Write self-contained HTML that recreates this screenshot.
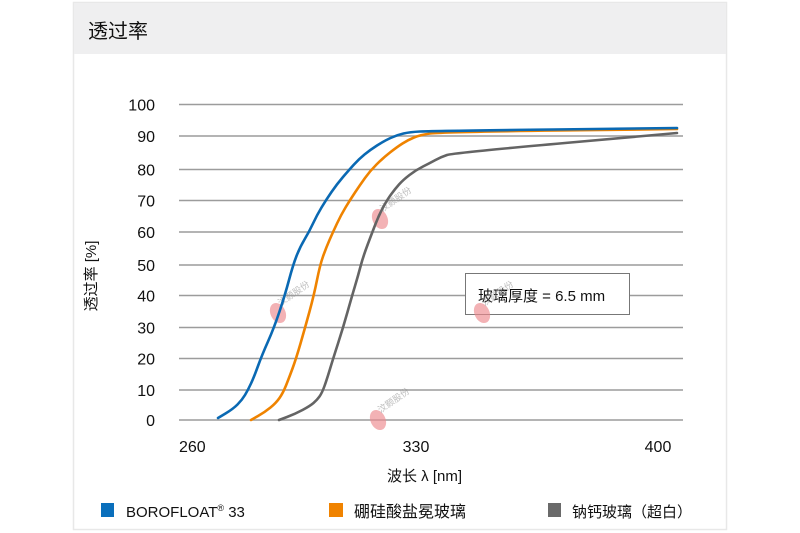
<!DOCTYPE html>
<html><head><meta charset="utf-8"><style>
html,body{margin:0;padding:0;background:#fff;}
body{width:800px;height:533px;overflow:hidden;position:relative;font-family:"Liberation Sans","Noto Sans CJK SC",sans-serif;}
svg{position:absolute;left:0;top:0;}
</style></head><body>
<svg width="800" height="533" viewBox="0 0 800 533" xmlns="http://www.w3.org/2000/svg" font-family="Liberation Sans, Noto Sans CJK SC, sans-serif">
<!-- card -->
<rect x="73.5" y="2.5" width="653" height="527" fill="#fff" stroke="#e8e8e8" stroke-width="1.5"/>
<rect x="74" y="3" width="652" height="51" fill="#efeff0"/>
<text x="88" y="38" font-size="20" fill="#111">透过率</text>

<!-- gridlines -->
<g stroke="#9c9c9c" stroke-width="1.5">
<line x1="179" y1="104.5" x2="683" y2="104.5"/>
<line x1="179" y1="136" x2="683" y2="136"/>
<line x1="179" y1="169.5" x2="683" y2="169.5"/>
<line x1="179" y1="200.5" x2="683" y2="200.5"/>
<line x1="179" y1="232" x2="683" y2="232"/>
<line x1="179" y1="265" x2="683" y2="265"/>
<line x1="179" y1="295.5" x2="683" y2="295.5"/>
<line x1="179" y1="327.5" x2="683" y2="327.5"/>
<line x1="179" y1="358.5" x2="683" y2="358.5"/>
<line x1="179" y1="390" x2="683" y2="390"/>
<line x1="179" y1="420" x2="683" y2="420"/>
</g>

<!-- y tick labels -->
<g font-size="16" fill="#111" text-anchor="end">
<text x="155" y="110.5">100</text>
<text x="155" y="142">90</text>
<text x="155" y="175.5">80</text>
<text x="155" y="206.5">70</text>
<text x="155" y="238">60</text>
<text x="155" y="271">50</text>
<text x="155" y="301.5">40</text>
<text x="155" y="333.5">30</text>
<text x="155" y="364.5">20</text>
<text x="155" y="396">10</text>
<text x="155" y="426">0</text>
</g>
<!-- x tick labels -->
<g font-size="16" fill="#111">
<text x="179" y="452">260</text>
<text x="416" y="452" text-anchor="middle">330</text>
<text x="658" y="452" text-anchor="middle">400</text>
</g>
<text x="387" y="481" font-size="15" fill="#111">波长 λ [nm]</text>
<text transform="translate(96,276) rotate(-90)" font-size="15" fill="#111" text-anchor="middle">透过率 [%]</text>

<!-- annotation -->
<rect x="465.5" y="273.5" width="164" height="41" fill="#fff" stroke="#777" stroke-width="1"/>
<text x="478" y="301" font-size="15" fill="#111">玻璃厚度 = 6.5 mm</text>

<!-- watermarks -->
<g opacity="0.65">
<g transform="translate(278,313)"><ellipse cx="0" cy="0" rx="7.5" ry="10.5" fill="#ee8a8f" transform="rotate(-25)"/><text x="6" y="-4" font-size="9" fill="#999" transform="rotate(-35)">汶颢股份</text></g>
<g transform="translate(380,219)"><ellipse cx="0" cy="0" rx="7.5" ry="10.5" fill="#ee8a8f" transform="rotate(-25)"/><text x="6" y="-4" font-size="9" fill="#999" transform="rotate(-35)">汶颢股份</text></g>
<g transform="translate(482,313)"><ellipse cx="0" cy="0" rx="7.5" ry="10.5" fill="#ee8a8f" transform="rotate(-25)"/><text x="6" y="-4" font-size="9" fill="#999" transform="rotate(-35)">汶颢股份</text></g>
<g transform="translate(378,420)"><ellipse cx="0" cy="0" rx="7.5" ry="10.5" fill="#ee8a8f" transform="rotate(-25)"/><text x="6" y="-4" font-size="9" fill="#999" transform="rotate(-35)">汶颢股份</text></g>
</g>

<!-- curves -->
<g fill="none" stroke-width="2.6" stroke-linejoin="round" stroke-linecap="round">
<path stroke="#646464" d="M279,420 L287,417 Q295,414 302.5,410 Q310,406 313.5,403 Q317,400 319.5,396.5 Q322,393 324.5,386 Q327,379 330,369 Q333,359 338,343.5 Q343,328 347.5,312 Q352,296 355,286 Q358,276 360.5,266.5 Q363,257 367.5,245 Q372,233 375.5,224 Q379,215 383,207.5 Q387,200 391,194.5 Q395,189 399,184.5 Q403,180 409.5,175 Q416,170 423,166.5 Q430,163 435.5,160 Q441,157 447,155 Q453,153 565,143 L677,133"/>
<path stroke="#ef8300" d="M251,420 L258,416 Q265,412 270.5,407.5 Q276,403 279.5,398 Q283,393 286,385.5 Q289,378 292.5,368.5 Q296,359 300.5,343.5 Q305,328 309.5,311.5 Q314,295 317,280 Q320,265 323,256.5 Q326,248 329.5,240 Q333,232 337,223.5 Q341,215 345.5,207.5 Q350,200 355,192.5 Q360,185 365,178 Q370,171 376.5,164.5 Q383,158 390,152.5 Q397,147 402.5,143.5 Q408,140 414,137.5 Q420,135 430,133.5 Q440,132 558.5,130.5 L677,129"/>
<path stroke="#0a69b3" d="M218,418 L225.5,413.5 Q233,409 237.5,404.5 Q242,400 245,395 Q248,390 251,383.5 Q254,377 258,366 Q262,355 268,341.5 Q274,328 279.5,311.5 Q285,295 289,280 Q293,265 296.5,256 Q300,247 304.5,239.5 Q309,232 313,223.5 Q317,215 321.5,207.5 Q326,200 331.5,192 Q337,184 343,177 Q349,170 354,164.5 Q359,159 364.5,154.5 Q370,150 377,145.5 Q384,141 390.5,138 Q397,135 403.5,133.5 Q410,132 420,131.5 Q430,131 553.5,129.5 L677,128"/>
</g>

<!-- legend -->
<rect x="101" y="503" width="13" height="14" fill="#0a6fbc"/>
<text x="126" y="517" font-size="15" fill="#111">BOROFLOAT<tspan font-size="9" dy="-6">®</tspan><tspan dy="6"> 33</tspan></text>
<rect x="329" y="503" width="14" height="14" fill="#f08300"/>
<text x="354" y="517" font-size="16" fill="#111">硼硅酸盐冕玻璃</text>
<rect x="548" y="503" width="13" height="14" fill="#6a6a6a"/>
<text x="572" y="517" font-size="15" fill="#111">钠钙玻璃（超白）</text>
</svg>
</body></html>
